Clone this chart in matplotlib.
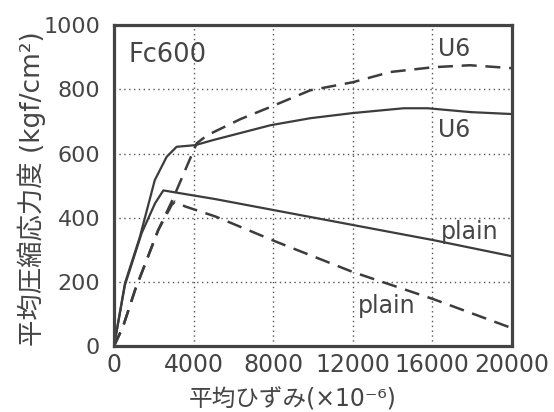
import matplotlib
matplotlib.use('Agg')
import matplotlib.pyplot as plt

plt.rcParams['font.family'] = ['DejaVu Sans', 'Noto Sans CJK JP']

# 実線 U6
u6_solid_x = [0, 550, 1300, 2050, 2650, 3150, 4080, 4990, 7860, 9870, 12000, 14560, 15770, 17930, 20000]
u6_solid_y = [0, 196, 340, 517, 590, 621, 626, 642, 688, 710, 726, 741, 741, 729, 723]

# 破線 U6
u6_dash_x = [0, 450, 1060, 1710, 2220, 2900, 3660, 4160, 4690, 6350, 7860, 9870, 12000, 13900, 16070, 17900, 20000]
u6_dash_y = [0, 60, 175, 279, 361, 450, 560, 632, 657, 707, 745, 797, 822, 854, 869, 875, 866]

# 実線 plain
plain_solid_x = [0, 550, 1390, 2065, 2480, 5090, 16070, 20000]
plain_solid_y = [0, 190, 352, 445, 485, 458, 330, 280]

# 破線 plain
plain_dash_x = [0, 450, 1060, 1710, 2220, 2900, 3070, 3580, 5090, 8200, 12000, 16070, 20000]
plain_dash_y = [0, 60, 175, 279, 361, 440, 450, 435, 404, 324, 231, 146, 56]

xticks = [0, 4000, 8000, 12000, 16000, 20000]
yticks = [0, 200, 400, 600, 800, 1000]

lc = '#3c3c3c'
tc = '#454545'

fig = plt.figure(figsize=(5.54, 4.12), dpi=100)
ax = fig.add_axes([0.2058, 0.160, 0.718, 0.779])

ax.plot(u6_solid_x, u6_solid_y, color=lc, lw=1.6)
ax.plot(plain_solid_x, plain_solid_y, color=lc, lw=1.6)
ax.plot(u6_dash_x, u6_dash_y, color=lc, lw=1.8, dashes=(6, 3.5))
ax.plot(plain_dash_x, plain_dash_y, color=lc, lw=1.8, dashes=(6, 3.5))

ax.set_xlim(0, 20000)
ax.set_ylim(0, 1000)
ax.set_xticks(xticks)
ax.set_yticks(yticks)
ax.set_xticklabels([str(v) for v in xticks])
ax.set_yticklabels([str(v) for v in yticks])
ax.tick_params(length=0, labelcolor=tc)
ax.tick_params(axis='y', pad=10, labelsize=16)
ax.tick_params(axis='x', pad=5, labelsize=17)
ax.grid(True, linestyle=(0, (1, 2.5)), color='#555555', lw=1.0)

for s in ax.spines.values():
    s.set_linewidth(2.3)
    s.set_color('#444444')

ax.text(750, 906, 'Fc600', fontsize=18.5, color=tc, va='center', ha='left')
ax.text(16300, 925, 'U6', fontsize=17, color=tc, va='center', ha='left')
ax.text(16300, 673, 'U6', fontsize=17, color=tc, va='center', ha='left')
ax.text(16450, 355, 'plain', fontsize=17, color=tc, va='center', ha='left')
ax.text(12250, 125, 'plain', fontsize=17, color=tc, va='center', ha='left')

ax.set_ylabel('平均圧縮応力度 (kgf/cm²)', fontsize=19, color=tc)
ax.set_xlabel('平均ひずみ(×10⁻⁶)', fontsize=17, color=tc)
ax.yaxis.set_label_coords(-0.17, 0.49)
ax.xaxis.set_label_coords(0.45, -0.13)

fig.savefig('out.png', dpi=100, facecolor='white')
